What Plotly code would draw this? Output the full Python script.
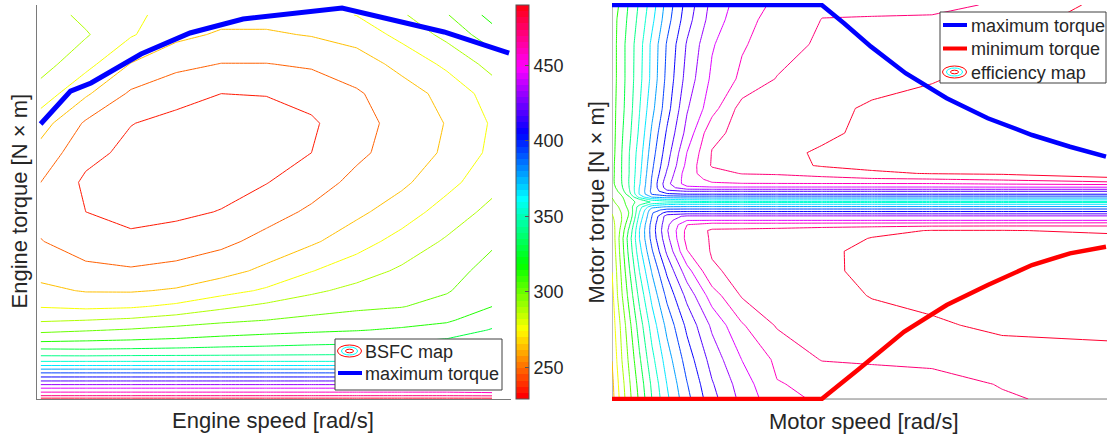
import colorsys
import plotly.graph_objects as go

W, H = 1107, 437
FONT = "Liberation Sans, Arial, Helvetica, sans-serif"
TXT = "#262626"

# ---------------- Engine BSFC map (left) ----------------
eng_speed = [100, 140, 180, 220, 260, 300, 340, 380, 420, 460, 500]
eng_torque = [0, 2, 4, 6, 8, 10, 12, 14, 16, 18, 20, 23, 26, 30, 35, 40, 47, 55,
              65, 80, 95, 110, 125, 140, 155, 170, 185, 195]
bsfc = [
    [488, 488, 488, 488, 488, 488, 488, 488, 488, 488, 488],
    [467, 467, 467, 467, 467, 467, 467, 467, 467, 467, 466],
    [454, 454, 454, 454, 454, 454, 454, 454, 454, 454, 452],
    [441, 441, 441, 441, 441, 441, 441, 441, 441, 441, 440],
    [426, 426, 426, 426, 426, 426, 426, 426, 426, 426, 427],
    [412.5, 412.5, 412.5, 412.5, 412.5, 412.5, 412.5, 412.5, 412.5, 412.5, 414],
    [400, 400, 400, 400, 400, 400, 400, 400, 400, 400, 403],
    [387.4, 387.4, 387.4, 387.4, 387.4, 387.4, 387.4, 387.4, 387.4, 387.4, 391],
    [373, 373, 373, 373, 373, 373, 373, 373, 373, 373, 379],
    [359, 359, 359, 359, 359, 359, 359, 359, 359, 360, 368],
    [348, 348, 348, 348, 348, 348, 348, 348, 348, 350, 358],
    [335.6, 335.2, 336.1, 336.5, 337, 337.5, 338, 338.5, 339.5, 342, 348],
    [324.7, 324.2, 325.2, 326.5, 327.9, 328.8, 330, 330.6, 331.5, 335.9, 341],
    [310.7, 312.3, 313.8, 315.3, 317.7, 319.7, 321.4, 322.8, 324.9, 327.9, 336],
    [297.3, 299.6, 302, 304.8, 307.4, 309.5, 311.5, 313.1, 315.6, 319.1, 327.8],
    [286.1, 287.7, 290, 294.3, 298.2, 300.8, 303.9, 306.3, 308.6, 312, 321.7],
    [273.8, 271.8, 273, 277.3, 284.9, 290.7, 294.9, 298.2, 300.2, 305.4, 313.7],
    [264.5, 260.7, 260.4, 263, 269.6, 276.6, 285.4, 291.3, 295.6, 299.6, 310.1],
    [257.4, 251.4, 250.1, 252.5, 257.1, 264.5, 274.2, 282.1, 289.8, 295.5, 305.6],
    [249, 242.8, 238.5, 240.9, 245.3, 252.7, 259.6, 269, 279.5, 289.4, 298.7],
    [245, 235.5, 231.5, 233, 236, 243.3, 250.7, 258.8, 268.1, 280.4, 291.4],
    [248.6, 233, 230.5, 230, 231, 235, 242.9, 251.9, 259, 270.5, 283.3],
    [256.7, 239.7, 232, 229.5, 229.5, 231, 235.5, 246, 254, 263.7, 277.6],
    [267.3, 246.7, 235.9, 232, 230.5, 230.5, 233.5, 244.5, 252.5, 262.3, 276],
    [282.2, 263.6, 246.5, 239.8, 235.5, 236, 240.6, 247, 256, 265.6, 280.5],
    [293, 279, 261, 252.1, 248.2, 248.2, 250.2, 255.4, 265.3, 277.5, 292.1],
    [296, 289, 276, 265, 260, 260, 262.4, 266.7, 278.5, 291.4, 308.6],
    [295, 284, 278, 269, 266, 266, 269, 275, 286, 300, 318],
]
bsfc_cmin, bsfc_cmax = 229, 490
bsfc_level_start, bsfc_level_step, bsfc_nlevels = 235.5, 13.05, 20
bsfc_ticks = [250, 300, 350, 400, 450]

eng_max_speed = [100, 126.5, 144.7, 189, 232.4, 279.4, 367.1, 457.5, 515.1]
eng_max_torque = [139.6, 156.3, 160.4, 175.1, 185.8, 192.9, 198.5, 186.3, 175.6]

# ---------------- Motor efficiency map (right), efficiency in % ----------------
mot_speed = [0, 10, 20, 35, 55, 80, 110, 150, 200, 260, 330, 420, 520, 640, 780, 990]
mot_torque = [-200, -185, -160, -125, -95, -70, -50, -37, -29, -23, -18.5, -14.5, -11,
              -8, -5, -2.5, 0, 2.5, 5, 8, 11, 14.5, 18.5, 23, 29, 37, 50, 70, 95,
              125, 160, 185, 200]
mot_eff = [
    [72.6, 73.6, 74.5, 75.75, 77.2, 79.02, 80.8, 82.7, 84.65, 86.3, 87.7, 88.15, 88.35, 88.6, 88.9, 89.3],
    [72.7, 73.75, 74.65, 75.9, 77.4, 79.2, 81.02, 82.95, 84.9, 86.5, 87.95, 88.2, 88.4, 88.65, 89.05, 89.4],
    [73.02, 74.05, 75.02, 76.25, 77.85, 79.7, 81.5, 83.45, 85.4, 87.02, 88.2, 89.05, 89.15, 89.2, 89.3, 89.4],
    [73.4, 74.4, 75.35, 76.75, 78.5, 80.45, 82.3, 84.25, 86.2, 87.9, 89.1, 89.4, 89.6, 89.8, 90.3, 90.5],
    [73.65, 74.9, 75.95, 77.4, 79.3, 81.3, 83.25, 85.3, 87.5, 89.1, 89.4, 89.6, 90.05, 90.4, 90.5, 90.5],
    [74.02, 75.1, 76.3, 77.95, 80.02, 82.1, 84.2, 86.6, 88.85, 89.3, 89.5, 89.75, 90.3, 90.5, 90.5, 90.5],
    [74.1, 75.4, 76.6, 78.4, 80.65, 82.9, 85.2, 87.95, 89.1, 89.25, 89.45, 89.8, 90.25, 90.35, 90.35, 90.35],
    [74.3, 75.5, 76.75, 78.6, 81.02, 83.35, 85.7, 88.35, 89.1, 89.2, 89.35, 89.5, 90.05, 90.2, 90.25, 90.25],
    [74.45, 75.4, 76.5, 78.3, 81.02, 83.45, 85.9, 88.3, 89.15, 89.2, 89.3, 89.5, 89.7, 90.05, 90.05, 89.85],
    [74.6, 75.35, 76.2, 77.9, 80.8, 83.4, 85.75, 87.98, 88.5, 88.5, 88.5, 88.55, 88.6, 88.65, 88.7, 88.75],
    [74.75, 75.35, 76.05, 77.5, 80.55, 83.2, 85.6, 86.95, 86.95, 86.95, 86.95, 86.95, 86.95, 86.95, 86.95, 86.95],
    [74.9, 75.4, 76.05, 77.2, 80.3, 83.02, 85.5, 86.2, 86.2, 86.2, 86.2, 86.2, 86.2, 86.2, 86.2, 86.2],
    [75.05, 75.5, 76.1, 77.1, 80.05, 82.9, 84.4, 84.5, 84.5, 84.5, 84.5, 84.5, 84.5, 84.5, 84.5, 84.5],
    [75.2, 75.65, 76.25, 77.2, 79.8, 82.6, 83.3, 83.35, 83.35, 83.35, 83.35, 83.35, 83.35, 83.35, 83.35, 83.35],
    [75.4, 75.8, 76.45, 77.35, 79.6, 81.7, 82.1, 82.15, 82.15, 82.15, 82.15, 82.15, 82.15, 82.15, 82.15, 82.15],
    [75.6, 76.05, 76.6, 77.45, 78.8, 80.4, 80.95, 81.05, 81.1, 81.1, 81.1, 81.1, 81.1, 81.1, 81.1, 81.1],
    [75.8, 76.2, 76.7, 77.5, 78.4, 79.1, 79.4, 79.6, 79.75, 79.75, 79.75, 79.75, 79.75, 79.75, 79.75, 79.75],
    [75.9, 76.3, 76.8, 77.6, 78.9, 80.4, 80.98, 81.1, 81.2, 81.2, 81.2, 81.2, 81.2, 81.2, 81.2, 81.2],
    [76.05, 76.4, 76.9, 77.9, 80.4, 82.05, 82.4, 82.5, 82.5, 82.5, 82.5, 82.5, 82.5, 82.5, 82.5, 82.5],
    [76.2, 76.6, 77.2, 78.7, 81.1, 83.1, 83.8, 84.05, 84.05, 84.05, 84.05, 84.05, 84.05, 84.05, 84.05, 84.05],
    [76.4, 76.9, 77.65, 78.95, 81.1, 83.3, 84.8, 85.05, 85.05, 85.05, 85.05, 85.05, 85.05, 85.05, 85.05, 85.05],
    [76.6, 77.15, 77.9, 79.05, 81.05, 83.2, 85.5, 86.7, 86.8, 86.8, 86.8, 86.8, 86.8, 86.8, 86.8, 86.8],
    [76.75, 77.3, 78.02, 79.1, 80.9, 83.15, 85.7, 87.5, 87.9, 87.95, 87.95, 87.95, 87.95, 87.95, 88.1, 88.3],
    [76.75, 77.35, 78.05, 79.1, 80.85, 83.1, 85.45, 87.6, 88.2, 88.45, 88.6, 88.75, 88.85, 88.95, 89.17, 89.87],
    [76.7, 77.35, 78.05, 79.05, 80.75, 82.95, 85.15, 87.6, 88.6, 89.05, 89.1, 89.3, 89.85, 90.05, 90.15, 90.25],
    [76.7, 77.35, 78.05, 79.05, 80.65, 82.8, 84.85, 87.3, 89.1, 89.35, 89.6, 90.1, 90.25, 90.3, 90.3, 90.3],
    [76.6, 77.3, 78.02, 79.02, 80.5, 82.55, 84.55, 87.02, 89.05, 89.3, 89.7, 90.15, 90.4, 90.5, 90.5, 90.5],
    [76.5, 77.25, 77.9, 78.8, 80.2, 82.2, 84.15, 86.35, 88.75, 89.3, 89.5, 89.75, 90.3, 90.5, 90.6, 90.6],
    [76.4, 77.2, 77.75, 78.6, 79.95, 81.7, 83.6, 85.9, 87.6, 89.4, 89.4, 89.6, 90.2, 90.5, 90.6, 90.6],
    [76.3, 77.1, 77.67, 78.5, 79.7, 81.3, 83.3, 85.4, 87.2, 88.2, 89.05, 89.3, 89.5, 89.9, 90.5, 90.6],
    [76.3, 77.1, 77.67, 78.5, 79.6, 81.25, 83.1, 85.1, 86.9, 87.9, 88.5, 89.2, 89.35, 89.5, 90.02, 90.5],
    [76.1, 77.02, 77.5, 78.3, 79.3, 80.75, 82.6, 84.6, 86.45, 87.7, 88.35, 89.02, 89.03, 89.05, 89.6, 90.4],
    [76.02, 76.8, 77.4, 78.15, 79.15, 80.5, 82.4, 84.4, 86.3, 87.5, 88.2, 88.85, 88.9, 88.9, 89.05, 90.3],
]
eff_level_start, eff_level_step, eff_nlevels = 71, 1, 20

mot_max_speed = [0, 419.4, 464, 518, 587.2, 669.4, 751.6, 840, 916, 988]
mot_max_torque = [200, 200, 181.4, 157.7, 130.7, 105.3, 85, 68, 56.1, 46]
mot_min_speed = [0, 419.4, 491.4, 584, 669.4, 751.6, 840, 916, 988]
mot_min_torque = [-200, -200, -170.5, -131.7, -104.6, -84.3, -64, -52.1, -45.4]


# ---------------- styling helpers ----------------
def hsv_rgb(h):
    r, g, b = colorsys.hsv_to_rgb(h, 1, 1)
    return f"rgb({round(r*255)},{round(g*255)},{round(b*255)})"


hsv64 = []
for i in range(64):
    c = hsv_rgb(i / 64)
    hsv64 += [[i / 64, c], [(i + 1) / 64, c]]


def level_scale(n):
    out = []
    for k in range(1, n + 1):
        idx = int((k - 0.5) / n * 64)
        out.append([(k - 1) / (n - 1), hsv_rgb(idx / 64)])
    return out


def X(px):
    return px / W


def Y(py):
    return 1 - py / H


fig = go.Figure()

fig.add_trace(go.Contour(
    x=eng_speed, y=eng_torque, z=bsfc, xaxis="x", yaxis="y",
    autocontour=False,
    contours=dict(coloring="lines", start=bsfc_level_start,
                  end=bsfc_level_start + (bsfc_nlevels - 1) * bsfc_level_step,
                  size=bsfc_level_step, showlabels=False),
    colorscale=level_scale(bsfc_nlevels), showscale=False,
    line=dict(width=1, smoothing=0), hoverinfo="skip", showlegend=False))

fig.add_trace(go.Scatter(
    x=eng_max_speed, y=eng_max_torque, mode="lines", xaxis="x", yaxis="y",
    line=dict(color="rgb(0,0,255)", width=5), showlegend=False))

# colorbar carrier
fig.add_trace(go.Scatter(
    x=[300], y=[100], mode="markers", xaxis="x", yaxis="y",
    marker=dict(size=1, opacity=0, color=[bsfc_cmin], cmin=bsfc_cmin, cmax=bsfc_cmax,
                colorscale=hsv64, showscale=True,
                colorbar=dict(x=X(516), xanchor="left", xpad=0, ypad=0,
                              y=Y(5), yanchor="top", len=394 / H, lenmode="fraction",
                              thickness=13, thicknessmode="pixels",
                              outlinewidth=1, outlinecolor="#555",
                              tickvals=bsfc_ticks, ticks="inside", ticklen=4,
                              tickcolor="#555",
                              tickfont=dict(size=18, color=TXT, family=FONT))),
    hoverinfo="skip", showlegend=False))

fig.add_trace(go.Contour(
    x=mot_speed, y=mot_torque, z=mot_eff, xaxis="x2", yaxis="y2",
    autocontour=False,
    contours=dict(coloring="lines", start=eff_level_start,
                  end=eff_level_start + (eff_nlevels - 1) * eff_level_step,
                  size=eff_level_step, showlabels=False),
    colorscale=level_scale(eff_nlevels), showscale=False,
    line=dict(width=1, smoothing=0), hoverinfo="skip", showlegend=False))

fig.add_trace(go.Scatter(
    x=mot_max_speed, y=mot_max_torque, mode="lines", xaxis="x2", yaxis="y2",
    line=dict(color="rgb(0,0,255)", width=4.5), showlegend=False))
fig.add_trace(go.Scatter(
    x=mot_min_speed, y=mot_min_torque, mode="lines", xaxis="x2", yaxis="y2",
    line=dict(color="rgb(255,0,0)", width=4.5), showlegend=False))

axis_common = dict(showgrid=False, zeroline=False, showticklabels=False, ticks="")
fig.update_layout(
    width=W, height=H, margin=dict(l=0, r=0, t=0, b=0),
    paper_bgcolor="white", plot_bgcolor="white", showlegend=False,
    font=dict(family=FONT, color=TXT),
    xaxis=dict(domain=[X(37), X(511)], range=[96.8, 516.8], showline=True,
               linecolor="#7a7a7a", linewidth=1, anchor="y", **axis_common),
    yaxis=dict(domain=[Y(399), Y(5)], range=[0, 200], showline=True,
               linecolor="#7a7a7a", linewidth=1, anchor="x", **axis_common),
    xaxis2=dict(domain=[X(612), 1.0], range=[0, 990], showline=False,
                anchor="y2", **axis_common),
    yaxis2=dict(domain=[Y(401), Y(3)], range=[-202, 202], showline=False,
                anchor="x2", **axis_common),
)

shapes = []
annots = []
shapes.append(dict(type="line", xref="x2", yref="y2", x0=0, x1=990, y0=-200, y1=-200,
                   line=dict(color="#7a7a7a", width=1), layer="below"))
shapes.append(dict(type="line", xref="x2", yref="y2", x0=0, x1=0, y0=-200, y1=200,
                   line=dict(color="#7a7a7a", width=1), layer="below"))


def rect(x0, y0, x1, y1):
    shapes.append(dict(type="rect", xref="paper", yref="paper", x0=X(x0), x1=X(x1),
                       y0=Y(y1), y1=Y(y0), fillcolor="white",
                       line=dict(color="#404040", width=1), layer="above"))


def hline(x0, x1, y, color, width):
    shapes.append(dict(type="line", xref="paper", yref="paper", x0=X(x0), x1=X(x1),
                       y0=Y(y), y1=Y(y), line=dict(color=color, width=width),
                       layer="above"))


def ellipse_icon(cx, cy):
    for rx, ry, col in [(12, 6, "red"), (8, 4, "cyan"), (4, 1.8, "red")]:
        shapes.append(dict(type="circle", xref="paper", yref="paper",
                           x0=X(cx - rx), x1=X(cx + rx), y0=Y(cy + ry), y1=Y(cy - ry),
                           line=dict(color=col, width=1), layer="above"))


def text(x, y, s, size=18, angle=0, anchor="left"):
    annots.append(dict(x=X(x), y=Y(y), xref="paper", yref="paper", text=s,
                       showarrow=False, xanchor=anchor, yanchor="middle",
                       textangle=angle, font=dict(size=size, color=TXT, family=FONT)))


# left legend
rect(335, 339, 502, 390)
ellipse_icon(349.5, 351)
text(363, 351.5, "BSFC map")
hline(338, 362, 373, "rgb(0,0,255)", 4)
text(363, 374, "maximum torque")

# right legend
rect(940, 12, 1106, 83)
hline(943, 967, 25, "rgb(0,0,255)", 4)
text(969, 26, "maximum torque")
hline(943, 967, 48.5, "rgb(255,0,0)", 4)
text(969, 49, "minimum torque")
ellipse_icon(954.5, 72)
text(969, 73, "efficiency map")

# axis titles
text(273, 420.5, "Engine speed [rad/s]", size=22, anchor="center")
text(19.5, 201, "Engine torque [N × m]", size=22, angle=-90, anchor="center")
text(863.5, 421, "Motor speed [rad/s]", size=22, anchor="center")
text(596.5, 203, "Motor torque [N × m]", size=22, angle=-90, anchor="center")

fig.update_layout(shapes=shapes, annotations=annots)
fig.write_html("out.html")
